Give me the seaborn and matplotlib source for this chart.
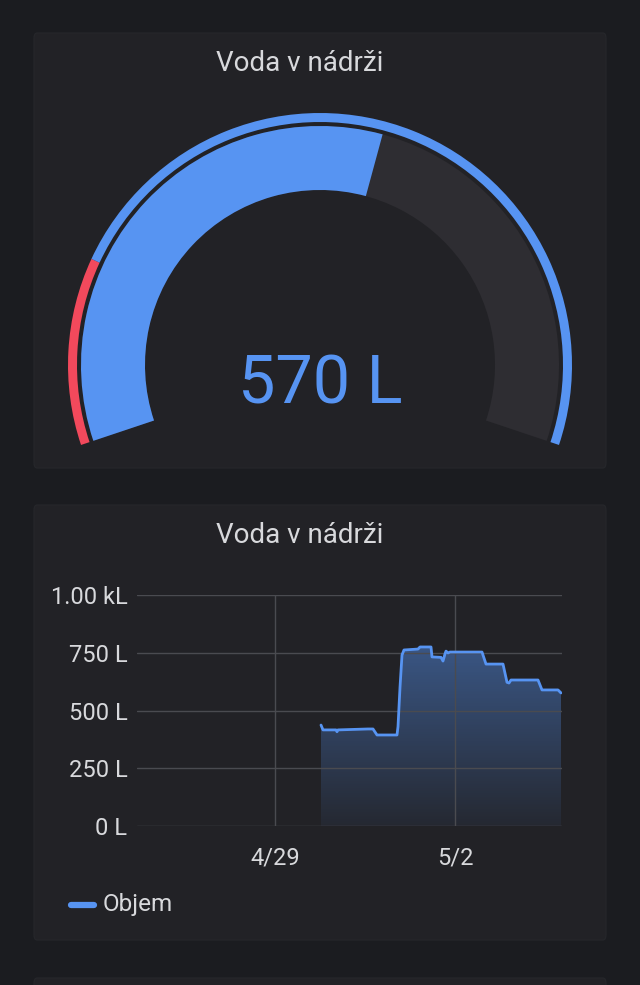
import numpy as np
import pandas as pd
import matplotlib
matplotlib.use("Agg")
import matplotlib.pyplot as plt
import matplotlib.dates as mdates
from matplotlib.patches import FancyBboxPatch
from matplotlib.colors import LinearSegmentedColormap
import seaborn as sns

# ---------------- data ----------------
gauge_title = "Voda v nádrži"
gauge_value = 570
gauge_min = 0
gauge_max = 1000
gauge_unit = "L"
threshold_steps = [0, 200]
threshold_colors = ["#f2495c", "#5794f2"]

ts_title = "Voda v nádrži"
series_name = "Objem"
timestamps = [
    "2023-04-29 18:24", "2023-04-29 19:12", "2023-04-30 00:24", "2023-04-30 00:48",
    "2023-04-30 01:12", "2023-04-30 13:12", "2023-04-30 15:12", "2023-04-30 16:48",
    "2023-05-01 00:48", "2023-05-01 01:12", "2023-05-01 02:00", "2023-05-01 02:48",
    "2023-05-01 03:36", "2023-05-01 09:12", "2023-05-01 10:00", "2023-05-01 14:24",
    "2023-05-01 14:48", "2023-05-01 18:24", "2023-05-01 19:12", "2023-05-01 20:00",
    "2023-05-01 20:24", "2023-05-01 21:12", "2023-05-01 22:00", "2023-05-02 10:48",
    "2023-05-02 12:24", "2023-05-02 19:12", "2023-05-02 20:48", "2023-05-02 21:36",
    "2023-05-02 22:24", "2023-05-03 09:12", "2023-05-03 10:48", "2023-05-03 17:12",
    "2023-05-03 18:24",
]
volumes = [
    437, 416, 416, 408,
    416, 420, 420, 394,
    394, 430, 600, 740,
    762, 766, 775, 775,
    732, 730, 714, 745,
    757, 749, 753, 753,
    701, 701, 622, 619,
    632, 632, 589, 589,
    576,
]
y_ticks = [0, 250, 500, 750, 1000]
y_tick_labels = ["0 L", "250 L", "500 L", "750 L", "1.00 kL"]
x_tick_dates = ["2023-04-29", "2023-05-02"]
x_tick_labels = ["4/29", "5/2"]
x_range = ["2023-04-26 16:48", "2023-05-03 18:48"]

# ---------------- style ----------------
PAGE = "#1b1c20"
PANEL = "#222226"
TEXT = "#d8d9dc"
BLUE = "#5794f2"
EMPTY = "#2e2d32"
GRID = "#4a4b50"

sns.set_theme(style="dark")
plt.rcParams["font.family"] = ["Roboto", "DejaVu Sans"]

W, H = 640, 985
fig = plt.figure(figsize=(W / 100, H / 100), dpi=100, facecolor=PAGE)

def px_rect(x0, y0, x1, y1):
    return [x0 / W, 1 - y1 / H, (x1 - x0) / W, (y1 - y0) / H]

def panel(x0, y0, x1, y1):
    l, b, w, h = px_rect(x0, y0, x1, y1)
    fig.patches.append(FancyBboxPatch((l, b), w, h,
                                      boxstyle="round,pad=0,rounding_size=0.005",
                                      transform=fig.transFigure, facecolor=PANEL,
                                      edgecolor="#26272b", linewidth=0.8, zorder=-5))

panel(34, 33, 606, 468)
panel(34, 505, 606, 940)
panel(34, 978, 606, 1060)

# ---------------- gauge ----------------
cx, cy, R = 320, 365, 256
gax = fig.add_axes(px_rect(cx - R, cy - R, cx + R, cy + R), projection="polar")
gax.set_facecolor("none")
gax.patch.set_alpha(0)
start_deg = 198.5
span_deg = 217.0
gax.set_theta_offset(np.deg2rad(start_deg))
gax.set_theta_direction(-1)
gax.set_axis_off()

def ang(v):
    return np.deg2rad((v - gauge_min) / (gauge_max - gauge_min) * span_deg)

# threshold ring
bounds = threshold_steps + [gauge_max]
for i, col in enumerate(threshold_colors):
    a0, a1 = ang(bounds[i]), ang(bounds[i + 1])
    gax.bar(a0, 9, width=a1 - a0, bottom=243, align="edge", color=col,
            edgecolor="none", linewidth=0)
# value band
gax.bar(0, 64, width=ang(gauge_max), bottom=175, align="edge", color=EMPTY,
        edgecolor="none", linewidth=0)
gax.bar(0, 64, width=ang(gauge_value), bottom=175, align="edge", color=BLUE,
        edgecolor="none", linewidth=0)
gax.set_ylim(0, R)

fig.text(0.5, 1 - 403 / H, f"{gauge_value} {gauge_unit}", color=BLUE,
         fontsize=48, ha="center", va="baseline")
fig.text(300 / W, 1 - 71 / H, gauge_title, color=TEXT, fontsize=20,
         ha="center", va="baseline")

# ---------------- time series ----------------
df = pd.DataFrame({"time": pd.to_datetime(timestamps), "value": volumes})
ax = fig.add_axes(px_rect(137, 595, 562, 826))
ax.set_facecolor("none")
sns.lineplot(data=df, x="time", y="value", ax=ax, color=BLUE, linewidth=2.0,
             label=series_name, legend=False, zorder=3)

xlim = mdates.date2num(pd.to_datetime(x_range))
poly = ax.fill_between(df["time"], df["value"], 0, facecolor="none", edgecolor="none")
cmap = LinearSegmentedColormap.from_list(
    "grad", [(0.34, 0.58, 0.95, 0.06), (0.34, 0.58, 0.95, 0.58)])
grad = np.linspace(0, 1, 256).reshape(-1, 1)
im = ax.imshow(grad, cmap=cmap, aspect="auto", origin="lower",
               extent=[xlim[0], xlim[1], y_ticks[0], y_ticks[-1]], zorder=1)
im.set_clip_path(poly.get_paths()[0], transform=ax.transData)
ax.set_xlim(xlim)
ax.set_ylim(y_ticks[0], y_ticks[-1])

ax.set_yticks(y_ticks)
ax.set_yticklabels(y_tick_labels)
ax.set_xticks(mdates.date2num(pd.to_datetime(x_tick_dates)))
ax.set_xticklabels(x_tick_labels)
ax.set_xlabel("")
ax.set_ylabel("")
ax.grid(True, color=GRID, linewidth=1.0)
ax.set_axisbelow("line")
for s in ax.spines.values():
    s.set_visible(False)
ax.tick_params(axis="both", length=0, labelsize=17, colors=TEXT)
ax.tick_params(axis="y", pad=7)
ax.tick_params(axis="x", pad=15)

fig.text(300 / W, 1 - 543 / H, ts_title, color=TEXT, fontsize=20,
         ha="center", va="baseline")

# legend
lx0, lx1, ly = 71, 94, 905
fig.add_artist(plt.Line2D([lx0 / W, lx1 / W], [1 - ly / H, 1 - ly / H],
                          transform=fig.transFigure, color=BLUE, linewidth=4.5,
                          solid_capstyle="round"))
fig.text(103 / W, 1 - ly / H, series_name, color=TEXT, fontsize=17.5,
         ha="left", va="center")

fig.savefig("out.png", dpi=100, facecolor=PAGE)
